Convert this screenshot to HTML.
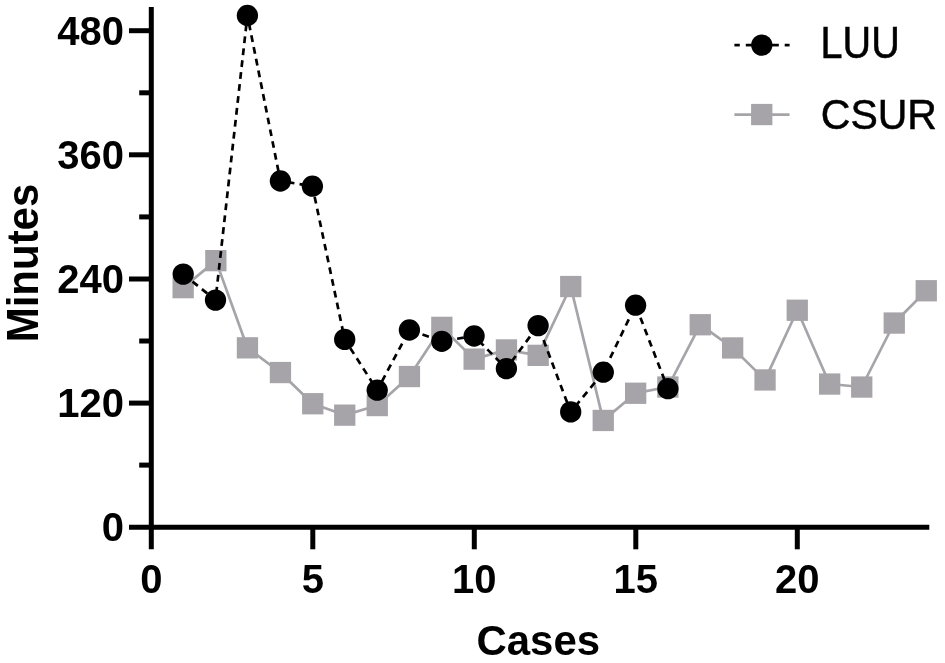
<!DOCTYPE html>
<html><head><meta charset="utf-8"><title>Chart</title>
<style>
html,body{margin:0;padding:0;background:#fff;}
svg{display:block;}
text{font-family:"Liberation Sans",Arial,sans-serif;fill:#000;}
.lg{stroke:#000;stroke-width:0.5px;}
.tk{font-weight:bold;font-size:40px;}
.ax{font-weight:bold;font-size:42px;}
.lg{font-size:41px;}
</style></head><body>
<svg width="945" height="663" viewBox="0 0 945 663">
<rect width="945" height="663" fill="#fff"/>
<polyline points="183.2,287.6 215.9,260.6 247.4,347.8 280.4,372.5 312.7,403.7 344.7,415.1 377.2,405.5 409.4,376.5 441.8,327.3 474.1,359.1 506.4,349.9 538.1,355.3 570.7,286.5 603.3,420.4 635.6,393.2 667.9,387.0 700.3,324.7 732.6,347.9 765.0,379.9 797.3,310.2 829.6,384.0 861.7,387.0 894.2,323.0 926.2,290.7" fill="none" stroke="#a6a4a9" stroke-width="2.7" stroke-linejoin="round"/>
<rect x="172.5" y="277.0" width="21.3" height="21.3" fill="#a6a4a9"/>
<rect x="205.2" y="250.0" width="21.3" height="21.3" fill="#a6a4a9"/>
<rect x="236.8" y="337.2" width="21.3" height="21.3" fill="#a6a4a9"/>
<rect x="269.8" y="361.9" width="21.3" height="21.3" fill="#a6a4a9"/>
<rect x="302.1" y="393.1" width="21.3" height="21.3" fill="#a6a4a9"/>
<rect x="334.1" y="404.5" width="21.3" height="21.3" fill="#a6a4a9"/>
<rect x="366.6" y="394.9" width="21.3" height="21.3" fill="#a6a4a9"/>
<rect x="398.8" y="365.9" width="21.3" height="21.3" fill="#a6a4a9"/>
<rect x="431.2" y="316.7" width="21.3" height="21.3" fill="#a6a4a9"/>
<rect x="463.5" y="348.5" width="21.3" height="21.3" fill="#a6a4a9"/>
<rect x="495.8" y="339.3" width="21.3" height="21.3" fill="#a6a4a9"/>
<rect x="527.5" y="344.7" width="21.3" height="21.3" fill="#a6a4a9"/>
<rect x="560.1" y="275.9" width="21.3" height="21.3" fill="#a6a4a9"/>
<rect x="592.6" y="409.8" width="21.3" height="21.3" fill="#a6a4a9"/>
<rect x="625.0" y="382.6" width="21.3" height="21.3" fill="#a6a4a9"/>
<rect x="657.2" y="376.4" width="21.3" height="21.3" fill="#a6a4a9"/>
<rect x="689.6" y="314.1" width="21.3" height="21.3" fill="#a6a4a9"/>
<rect x="722.0" y="337.3" width="21.3" height="21.3" fill="#a6a4a9"/>
<rect x="754.4" y="369.3" width="21.3" height="21.3" fill="#a6a4a9"/>
<rect x="786.6" y="299.6" width="21.3" height="21.3" fill="#a6a4a9"/>
<rect x="819.0" y="373.4" width="21.3" height="21.3" fill="#a6a4a9"/>
<rect x="851.1" y="376.4" width="21.3" height="21.3" fill="#a6a4a9"/>
<rect x="883.6" y="312.4" width="21.3" height="21.3" fill="#a6a4a9"/>
<rect x="915.6" y="280.1" width="21.3" height="21.3" fill="#a6a4a9"/>
<polyline points="183.2,274.1 215.5,300.1 247.4,15.5 280.4,181.0 312.4,186.2 344.7,339.4 377.2,390.2 409.4,330.0 441.8,341.3 474.1,336.0 506.4,368.6 538.1,325.6 570.7,411.9 603.3,372.2 635.6,305.2 667.9,388.7" fill="none" stroke="#000" stroke-width="2.7" stroke-dasharray="6.8 5.2"/>
<circle cx="183.2" cy="274.1" r="10.65" fill="#000"/>
<circle cx="215.5" cy="300.1" r="10.65" fill="#000"/>
<circle cx="247.4" cy="15.5" r="10.65" fill="#000"/>
<circle cx="280.4" cy="181.0" r="10.65" fill="#000"/>
<circle cx="312.4" cy="186.2" r="10.65" fill="#000"/>
<circle cx="344.7" cy="339.4" r="10.65" fill="#000"/>
<circle cx="377.2" cy="390.2" r="10.65" fill="#000"/>
<circle cx="409.4" cy="330.0" r="10.65" fill="#000"/>
<circle cx="441.8" cy="341.3" r="10.65" fill="#000"/>
<circle cx="474.1" cy="336.0" r="10.65" fill="#000"/>
<circle cx="506.4" cy="368.6" r="10.65" fill="#000"/>
<circle cx="538.1" cy="325.6" r="10.65" fill="#000"/>
<circle cx="570.7" cy="411.9" r="10.65" fill="#000"/>
<circle cx="603.3" cy="372.2" r="10.65" fill="#000"/>
<circle cx="635.6" cy="305.2" r="10.65" fill="#000"/>
<circle cx="667.9" cy="388.7" r="10.65" fill="#000"/>
<g stroke="#000" stroke-width="5" fill="none">
<line x1="151.3" y1="7.1" x2="151.3" y2="549.3"/>
<line x1="129" y1="527.2" x2="929.3" y2="527.2"/>
<line x1="129" y1="403.1" x2="151.3" y2="403.1"/>
<line x1="129" y1="279.0" x2="151.3" y2="279.0"/>
<line x1="129" y1="154.8" x2="151.3" y2="154.8"/>
<line x1="129" y1="30.7" x2="151.3" y2="30.7"/>
<line x1="139.2" y1="465.1" x2="151.3" y2="465.1"/>
<line x1="139.2" y1="341.0" x2="151.3" y2="341.0"/>
<line x1="139.2" y1="216.9" x2="151.3" y2="216.9"/>
<line x1="139.2" y1="92.8" x2="151.3" y2="92.8"/>
<line x1="312.8" y1="527.2" x2="312.8" y2="549.3"/>
<line x1="474.3" y1="527.2" x2="474.3" y2="549.3"/>
<line x1="635.8" y1="527.2" x2="635.8" y2="549.3"/>
<line x1="797.3" y1="527.2" x2="797.3" y2="549.3"/>
</g>
<text class="tk" x="124" y="541.1" text-anchor="end">0</text>
<text class="tk" x="124" y="417.0" text-anchor="end">120</text>
<text class="tk" x="124" y="292.9" text-anchor="end">240</text>
<text class="tk" x="124" y="168.7" text-anchor="end">360</text>
<text class="tk" x="124" y="44.6" text-anchor="end">480</text>
<text class="tk" x="151.3" y="592.5" text-anchor="middle">0</text>
<text class="tk" x="312.8" y="592.5" text-anchor="middle">5</text>
<text class="tk" x="474.3" y="592.5" text-anchor="middle">10</text>
<text class="tk" x="635.8" y="592.5" text-anchor="middle">15</text>
<text class="tk" x="797.3" y="592.5" text-anchor="middle">20</text>
<text class="ax" transform="translate(538.3 655.4) scale(1 1.015)" text-anchor="middle">Cases</text>
<text class="ax" transform="translate(37.6 263) rotate(-90) scale(1 1.035)" text-anchor="middle">Minutes</text>
<g stroke="#000" stroke-width="2.7"><line x1="734.4" y1="45.1" x2="739.8" y2="45.1"/><line x1="745.8" y1="45.1" x2="752" y2="45.1"/><line x1="771" y1="45.1" x2="778.8" y2="45.1"/><line x1="784.7" y1="45.1" x2="789.6" y2="45.1"/></g>
<circle cx="761.8" cy="45.1" r="10.65" fill="#000"/>
<line x1="734.4" y1="114.6" x2="789.6" y2="114.6" stroke="#a6a4a9" stroke-width="2.7"/>
<rect x="751.1" y="103.9" width="21.3" height="21.3" fill="#a6a4a9"/>
<text class="lg" transform="translate(820.6 58.3) scale(0.965 1.06)">LUU</text>
<text class="lg" transform="translate(820.8 128.6) scale(1.0 1.06)">CSUR</text>
</svg></body></html>
